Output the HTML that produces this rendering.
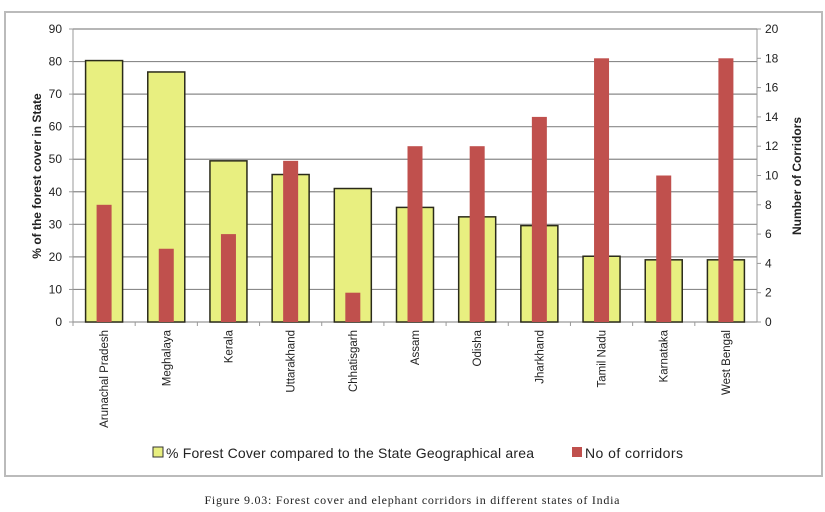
<!DOCTYPE html>
<html><head><meta charset="utf-8"><style>
body{margin:0;background:#fff;width:825px;height:512px;overflow:hidden}
svg{display:block}
text{font-family:"Liberation Sans",sans-serif;fill:#222}
</style></head><body>
<svg id="chart" width="825" height="512">
<rect x="5" y="12" width="817" height="464" fill="#fff" stroke="#bbb" stroke-width="2"/>
<g id="grid"></g><g id="bars"></g><g id="axes"></g>
<text transform="translate(41,176) rotate(-90)" text-anchor="middle" font-size="12" font-weight="bold">% of the forest cover in State</text>
<text transform="translate(801,176) rotate(-90)" text-anchor="middle" font-size="12" font-weight="bold">Number of Corridors</text>
<g>
<rect x="153" y="447" width="10" height="10" fill="#e8ef80" stroke="#333"/>
<text x="166" y="458" font-size="14" textLength="368">% Forest Cover compared to the State Geographical area</text>
<rect x="572" y="447" width="10" height="10" fill="#c0504d"/>
<text x="585" y="458" font-size="14" textLength="98">No of corridors</text>
</g>
<text x="412" y="504" text-anchor="middle" font-size="12" textLength="415" style="font-family:'Liberation Serif',serif" fill="#444">Figure 9.03: Forest cover and elephant corridors in different states of India</text>
</svg>
<script>
const categories=["Arunachal Pradesh","Meghalaya","Kerala","Uttarakhand","Chhatisgarh","Assam","Odisha","Jharkhand","Tamil Nadu","Karnataka","West Bengal"];
const forestCover=[80.3,76.8,49.5,45.3,41,35.2,32.3,29.6,20.2,19.1,19.1];
const corridors=[8,5,6,11,2,12,12,14,18,10,18];
const leftTicks=[0,10,20,30,40,50,60,70,80,90];
const rightTicks=[0,2,4,6,8,10,12,14,16,18,20];
const NS="http://www.w3.org/2000/svg";
const X0=73,X1=757,Y0=322,Y1=29;
const bw=(X1-X0)/categories.length;
const yL=v=>Y0-(v/90)*(Y0-Y1);
const yR=v=>Y0-(v/20)*(Y0-Y1);
function mk(tag,attrs,parent){const e=document.createElementNS(NS,tag);for(const k in attrs)e.setAttribute(k,attrs[k]);document.getElementById(parent).appendChild(e);return e;}
leftTicks.forEach(t=>{
 const y=yL(t);
 const g=mk('line',{x1:X0,x2:X1,y1:y,y2:y,stroke:t===0?'#999':'#8a8a8a','stroke-width':1.2},'grid');
 
 
 const tk=mk('line',{x1:X0-4,x2:X0,y1:y,y2:y,stroke:'#999'},'axes');
 
 
 const tx=mk('text',{x:X0-11,y:y+4,'text-anchor':'end','font-size':12},'axes');
 tx.textContent=t;
 
 
});
rightTicks.forEach(t=>{
 const y=yR(t);
 const tk=mk('line',{x1:X1,x2:X1+4,y1:y,y2:y,stroke:'#999'},'axes');
 
 
 const tx=mk('text',{x:X1+8,y:y+4,'font-size':12},'axes');
 tx.textContent=t;
 
 
});
const la=mk('line',{x1:X0,x2:X0,y1:Y1,y2:Y0,stroke:'#999'},'axes');


const ra=mk('line',{x1:X1,x2:X1,y1:Y1,y2:Y0,stroke:'#999'},'axes');


categories.forEach((c,i)=>{
 const cx=X0+bw*(i+0.5);
 const gw=37,rw=15;
 const g=mk('rect',{x:cx-gw/2,y:yL(forestCover[i]),width:gw,height:Y0-yL(forestCover[i]),fill:'#e8ef80',stroke:'#2a2a1a','stroke-width':1.5},'bars');
 
 
 const r=mk('rect',{x:cx-rw/2,y:yR(corridors[i]),width:rw,height:Y0-yR(corridors[i]),fill:'#c0504d'},'bars');
 
 
 const tk=mk('line',{x1:X0+bw*i,x2:X0+bw*i,y1:Y0,y2:Y0+4,stroke:'#999'},'axes');
 
 
 const tx=mk('text',{transform:`translate(${cx+4},330) rotate(-90)`,'text-anchor':'end','font-size':11.5},'axes');
 tx.textContent=c;
 
 
});
</script>
</body></html>
